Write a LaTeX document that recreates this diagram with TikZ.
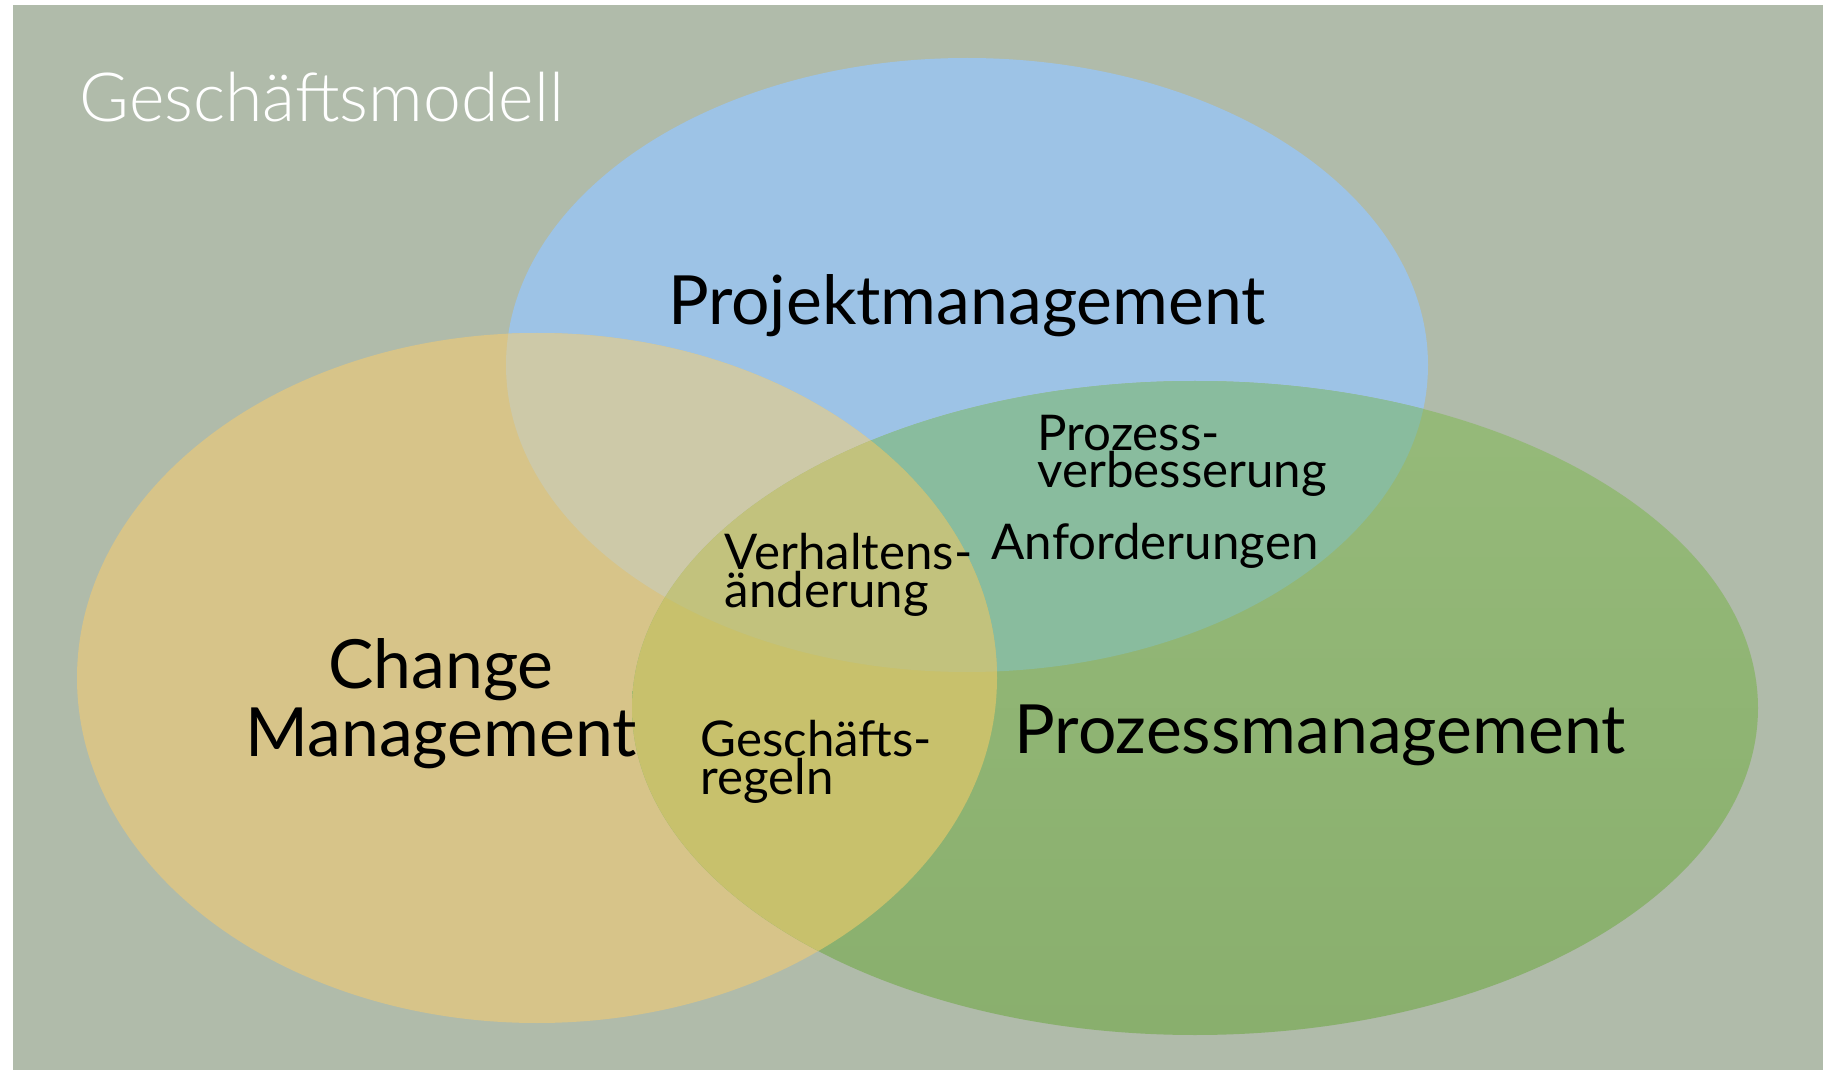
\documentclass[tikz,border=0pt]{standalone}
\usepackage{fontspec}
\setmainfont{Lato}
\newfontfamily\lightfont{Lato Light}
\usepackage{xcolor}
\definecolor{bgcol}{RGB}{176,187,170}
\definecolor{projcol}{RGB}{157,195,230}
\definecolor{changecol}{RGB}{215,196,137}
\definecolor{prozcoltop}{RGB}{150,186,122}
\definecolor{prozcolbot}{RGB}{137,175,109}
\definecolor{pccol}{RGB}{205,201,168}
\definecolor{ppcol}{RGB}{137,188,158}
\definecolor{cpcol}{RGB}{200,193,108}
\definecolor{allcol}{RGB}{194,194,125}
\usetikzlibrary{positioning}

\begin{document}
\begin{tikzpicture}[x=0.01cm, y=-0.01cm,
  biglabel/.style={font={\fontsize{19.3}{19.3}\selectfont}, text=black, inner sep=0pt, align=center},
  smalllabel/.style={font={\fontsize{14}{10.7}\selectfont}, text=black, inner sep=0pt, align=left, anchor=base west}]

\useasboundingbox (0,0) rectangle (1823,1070);

% Background
\fill[bgcol] (13,5) rectangle (1823,1070);

% The three ellipses
\def\projell{(967,365) ellipse [x radius=461, y radius=307]}
\def\changeell{(537,678) ellipse [x radius=460, y radius=345]}
\def\prozell{(1195,708) ellipse [x radius=563, y radius=327]}

\fill[projcol] \projell;
\fill[changecol] \changeell;
\shade[top color=prozcoltop, bottom color=prozcolbot] \prozell;

% Overlaps
\begin{scope}
  \clip \projell;
  \fill[pccol] \changeell;
  \fill[ppcol] \prozell;
\end{scope}
\begin{scope}
  \clip \changeell;
  \fill[cpcol] \prozell;
\end{scope}
\begin{scope}
  \clip \projell;
  \clip \changeell;
  \fill[allcol] \prozell;
\end{scope}

% Title
\node[font={\lightfont\fontsize{19.3}{20}\selectfont}, text=white, inner sep=0pt, anchor=base west] (titel) at (79,122) {Geschäftsmodell};

% Main labels (base = last line)
\node[biglabel, anchor=base] (projekt) at (967,325) {Projektmanagement};
\node[biglabel, anchor=base] (change) at (441,756) {Change\\Management};
\node[biglabel, anchor=base west] (prozess) at (1014,753) {Prozessmanagement};

% Overlap labels
\node[smalllabel] (verbesserung) at (1037,488) {Prozess-\\verbesserung};
\node[smalllabel] (anforderungen) at (991,560) {Anforderungen};
\node[smalllabel] (verhalten) at (724,607) {Verhaltens-\\änderung};
\node[smalllabel] (regeln) at (700,794) {Geschäfts-\\regeln};

\end{tikzpicture}
\end{document}
